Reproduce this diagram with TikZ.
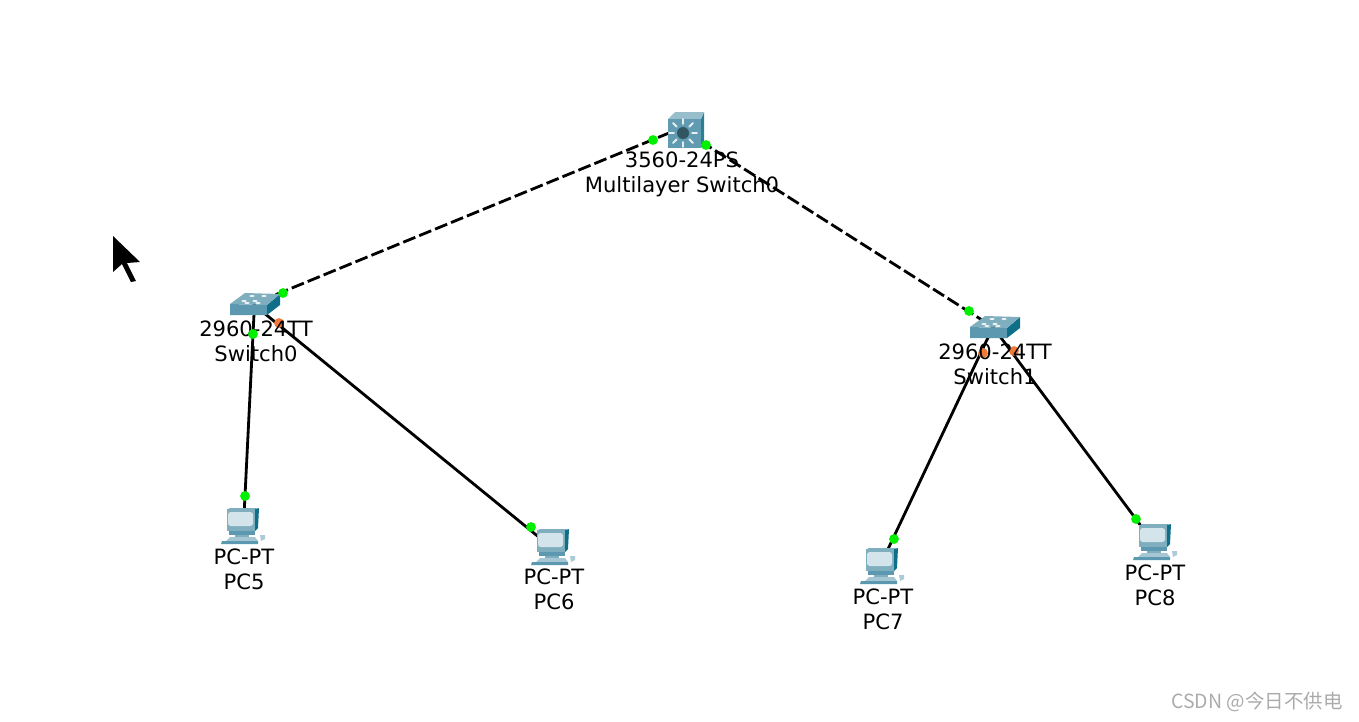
\documentclass[tikz,border=0pt]{standalone}
\usepackage{fontspec}
\setmainfont{DejaVu Sans}
\newfontfamily\cjk{Noto Sans CJK SC}
\definecolor{topface}{HTML}{7FAEBE}
\definecolor{frontface}{HTML}{5C98AF}
\definecolor{sideface}{HTML}{0F6F88}
\definecolor{screenface}{HTML}{D3E4EA}
\definecolor{linkup}{HTML}{00F000}
\definecolor{linkwait}{HTML}{F07A3C}

\begin{document}
\begin{tikzpicture}[x=0.02cm, y=-0.02cm]
    \tikzset{label/.style={align=center, inner sep=0pt, font=\fontsize{12pt}{14.2pt}\selectfont}}
    \tikzset{cable/.style={line width=1.6pt}}
    \tikzset{trunk/.style={cable, dash pattern=on 7.4pt off 2.4pt}}
    \tikzset{lamp/.style={circle, fill=linkup, minimum size=5.6pt, inner sep=0pt}}
    \tikzset{lampwait/.style={lamp, fill=linkwait}}
    \tikzset{switchicon/.pic={
      \fill [frontface] (-23, 0) -- (14, 1) -- (14, 11) -- (-23, 11) -- cycle;
      \fill [sideface] (14, 1) -- (27, -10) -- (27, 1) -- (14, 11) -- cycle;
      \fill [topface] (-23, 0) -- (-8, -11) -- (27, -10) -- (14, 1) -- cycle;
      \foreach \p/\q in {-9/-3, 2/-3, -1/-8, 11/-8, -6/-1, 5/-1} {
        \fill [white!85!topface] (\p, \q) ellipse [x radius=2.6, y radius=1];
      }
    }}
    \tikzset{mlsicon/.pic={
      \fill [sideface!75!topface] (15, -10) -- (18, -17) -- (18, 13) -- (15, 19) -- cycle;
      \fill [topface!80!white] (-18, -10) -- (-11, -17) -- (18, -17) -- (15, -10) -- cycle;
      \fill [frontface!85!topface] (-18, -10) rectangle (15, 19);
      \foreach \a in {0, 45, ..., 315} {
        \draw [white!80!topface, line width=1.1pt, line cap=round]
              ([shift={(\a:9)}] -3, 4) -- ([shift={(\a:14)}] -3, 4);
      }
      \fill [sideface!35!black!65!topface] (-3, 4) circle [radius=6];
    }}
    \tikzset{pcicon/.pic={
      % Base and keyboard
      \fill [frontface] (-12, 5) rectangle (14, 9);
      \fill [topface] (-6, 9) -- (8, 9) -- (8, 11) -- (-6, 11) -- cycle;
      \fill [topface!70!white] (-15, 15) -- (-11, 11) -- (14, 11) -- (17, 15) -- cycle;
      \fill [frontface] (-19, 15) -- (17, 15) -- (17, 18) -- (-20, 18) -- cycle;
      \fill [frontface!50!white] (19, 9) -- (24, 9) -- (24, 13) -- (20, 15) -- cycle;
      % Monitor
      \fill [sideface] (14, -17) -- (18, -18) -- (17, 2) -- (14, 5) -- cycle;
      \fill [topface] (-13, -17) -- (-11, -18) -- (18, -18) -- (14, -17) -- cycle;
      \fill [topface] (-14, -17) rectangle (14, 5);
      \fill [screenface, rounded corners=1.5pt] (-13, -14) rectangle (12, 0);
    }}

    % Devices
    \path (686, 129) coordinate (MLS);
    \path (253, 304) coordinate (S0);
    \path (993, 327) coordinate (S1);
    \path (686, 126) coordinate (MLSa);
    \path (686, 132) coordinate (MLSb);

    \foreach \n/\x/\y in {PC5/241/526, PC6/551/547, PC7/880/566, PC8/1153/542} {
      \path (\x, \y) coordinate (\n);
    }

    % Edges
    \draw [trunk] (MLSa) -- (S0);
    \draw [trunk] (MLSb) -- (S1);
    \draw [cable] ([xshift=0.03cm] S0) -- ([xshift=0.05cm] PC5);
    \draw [cable] (S0) -- (PC6);
    \draw [cable] (S1) -- (PC7);
    \draw [cable] (S1) -- (PC8);

    % Icons
    \path (MLS) pic {mlsicon};
    \path (S0) pic {switchicon};
    \path (S1) pic {switchicon};
    \foreach \n in {PC5, PC6, PC7, PC8} {
      \path (\n) pic {pcicon};
    }

    % Amber lamps sit under the labels
    \path (279, 323) node [lampwait] (l0) {};
    \path (983, 353) node [lampwait] (l1) {};
    \path (1014, 351) node [lampwait] (l2) {};

    % Labels
    \path (682, 174.5) node [label] (tMLS) {3560-24PS\\Multilayer Switch0};
    \path (256, 341) node [label] (tS0) {2960-24TT\\Switch0};
    \path (995, 364) node [label] (tS1) {2960-24TT\\Switch1};
    \foreach \n/\x/\y in {PC5/244/569.5, PC6/554/589.5, PC7/883/609.5, PC8/1155/585.5} {
      \path (\x, \y) node [label] (t\n) {PC-PT\\\n};
    }

    % Green lamps
    \foreach \x/\y [count=\i] in {653/140, 706/145, 283/293, 969/311, 253/334,
                                  245/496, 531/527, 894/539, 1136/519} {
      \path (\x, \y) node [lamp] (g\i) {};
    }

    % Pointer
    \fill (113, 236) -- (140, 262) -- (127, 263) -- (136, 281) -- (131, 282)
          -- (122, 264) -- (113, 272) -- cycle;

    % Watermark
    \path (1343, 702) node [anchor=east, inner sep=0pt, text=black!33,
          font=\cjk\fontsize{11.1pt}{12pt}\selectfont] (mark) {CSDN @今日不供电};

    \useasboundingbox (0, 0) rectangle (1359, 721);
  \end{tikzpicture}
\end{document}
